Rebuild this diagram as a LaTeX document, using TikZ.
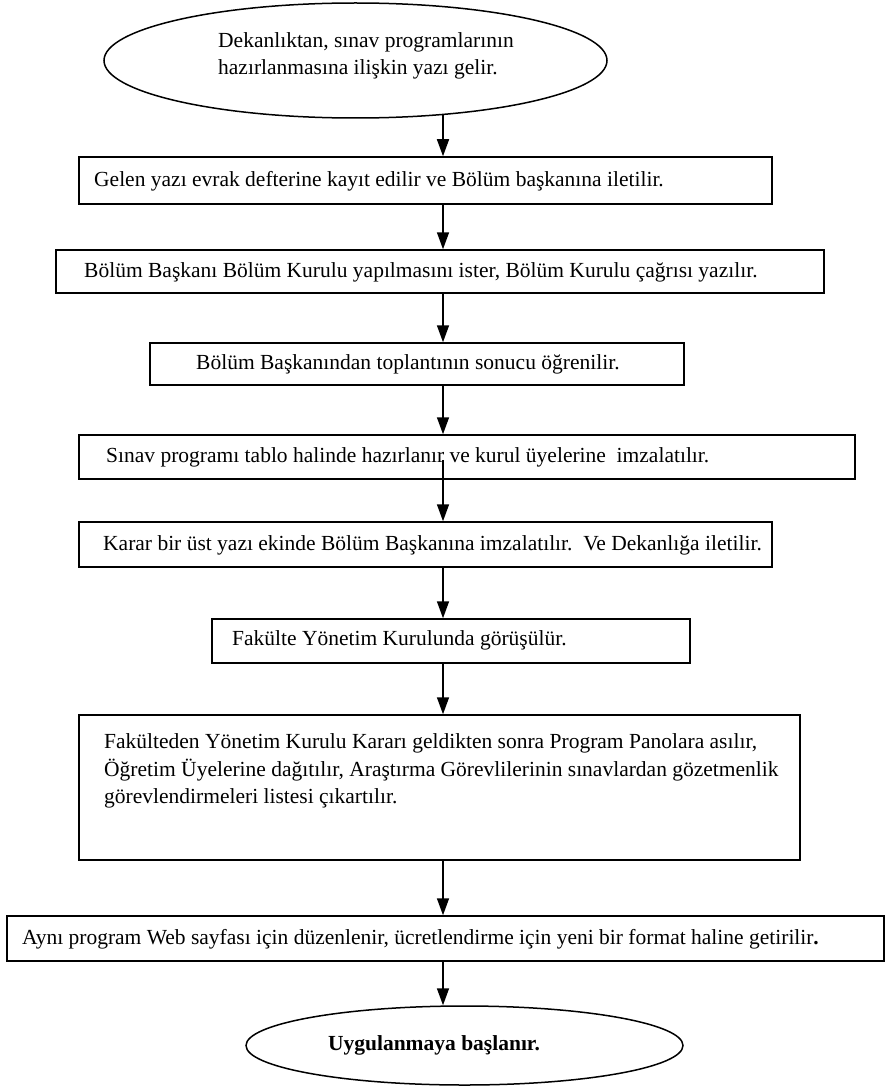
\documentclass[tikz,border=0pt]{standalone}
\usepackage{fontspec}
\setmainfont{Liberation Serif}
\usetikzlibrary{shapes.geometric,arrows.meta}
\begin{document}
\begin{tikzpicture}[x=1pt,y=-1pt,
  box/.style={draw, line width=1.5pt, rectangle, inner sep=0pt},
  oval/.style={draw, line width=1.5pt, ellipse, inner sep=0pt},
  txt/.style={anchor=west, inner sep=0pt, font=\fontsize{21.5}{27.5}\selectfont, align=left},
  arr/.style={line width=1.6pt, -{Triangle[length=17pt,width=12pt]}}]
\useasboundingbox[fill=white] (0,0) rectangle (886,1089);
\coordinate (ax) at (443,0);
% shapes
\node[oval, minimum width=503pt, minimum height=115pt] (e1) at (355.5,60.5) {};
\node[box, minimum width=693pt, minimum height=47pt] (b1) at (425.5,180.5) {};
\node[box, minimum width=768pt, minimum height=43pt] (b2) at (440,271.5) {};
\node[box, minimum width=534pt, minimum height=42pt] (b3) at (417,364) {};
\node[box, minimum width=776pt, minimum height=44pt] (b4) at (467,457) {};
\node[box, minimum width=693pt, minimum height=45pt] (b5) at (425.5,544.5) {};
\node[box, minimum width=478pt, minimum height=44pt] (b6) at (451,641) {};
\node[box, minimum width=721pt, minimum height=145pt] (b7) at (439.5,787.5) {};
\node[box, minimum width=877pt, minimum height=45pt] (b8) at (445.5,938.5) {};
\node[oval, minimum width=437pt, minimum height=79pt] (e2) at (464.5,1045.5) {};
% texts
\node[txt] (t0) at (218,56) {Dekanlıktan, sınav programlarının\\hazırlanmasına ilişkin yazı gelir.};
\node[txt] (t1) at (94,181) {Gelen yazı evrak defterine kayıt edilir ve Bölüm başkanına iletilir.};
\node[txt] (t2) at (84,272) {Bölüm Başkanı Bölüm Kurulu yapılmasını ister, Bölüm Kurulu çağrısı yazılır.};
\node[txt] (t3) at (196,364) {Bölüm Başkanından toplantının sonucu öğrenilir.};
\node[txt] (t4) at (106,457) {Sınav programı tablo halinde hazırlanır ve kurul üyelerine\ \ imzalatılır.};
\node[txt] (t5) at (103,545) {Karar bir üst yazı ekinde Bölüm Başkanına imzalatılır.\ \ Ve Dekanlığa iletilir.};
\node[txt] (t6) at (232,640) {Fakülte Yönetim Kurulunda görüşülür.};
\node[txt] (t7) at (104,771) {Fakülteden Yönetim Kurulu Kararı geldikten sonra Program Panolara asılır,\\Öğretim Üyelerine dağıtılır, Araştırma Görevlilerinin sınavlardan gözetmenlik\\görevlendirmeleri listesi çıkartılır.};
\node[txt] (t8) at (22,939) {Aynı program Web sayfası için düzenlenir, ücretlendirme için yeni bir format haline getirilir\textbf{.}};
\node[txt, anchor=center, font=\fontsize{21.5}{26}\selectfont\bfseries] (t9) at (434,1045) {Uygulanmaya başlanır.};
% connectors
\coordinate (e1b) at ([yshift=4pt]e1.south);
\coordinate (b4m) at ([yshift=20pt]b4.south);
\draw[arr] (e1b -| ax) -- (b1.north -| ax);
\draw[arr] (b1.south -| ax) -- (b2.north -| ax);
\draw[arr] (b2.south -| ax) -- (b3.north -| ax);
\draw[arr] (b3.south -| ax) -- (b4.north -| ax);
\draw[arr] (b4m -| ax) -- (b5.north -| ax);
\draw[arr] (b5.south -| ax) -- (b6.north -| ax);
\draw[arr] (b6.south -| ax) -- (b7.north -| ax);
\draw[arr] (b7.south -| ax) -- (b8.north -| ax);
\draw[arr] (b8.south -| ax) -- (e2.north -| ax);
\end{tikzpicture}
\end{document}
